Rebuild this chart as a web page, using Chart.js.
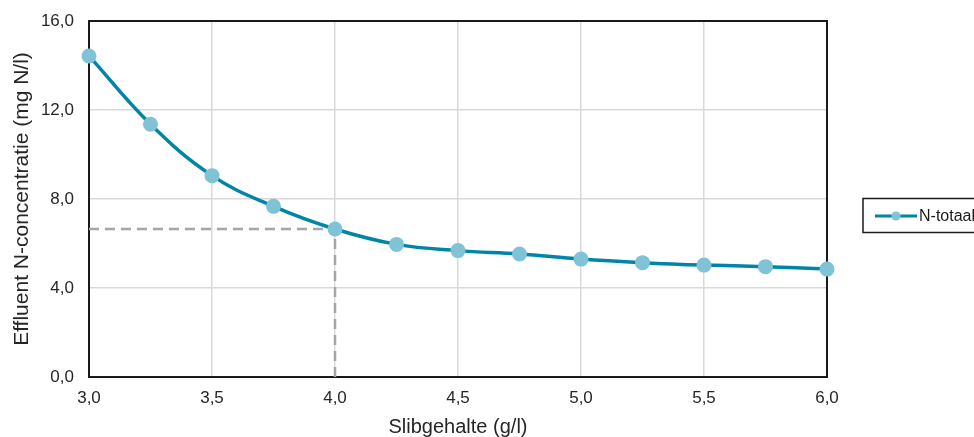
<!DOCTYPE html>
<html>
<head>
<meta charset="utf-8">
<script src="https://cdn.jsdelivr.net/npm/chart.js@4"></script>
<style>
html,body{margin:0;padding:0;background:#fff;}
#wrap{width:974px;height:437px;position:relative;}
</style>
</head>
<body>
<div id="wrap"><canvas id="c" width="974" height="437"></canvas></div>
<script>
const slibgehalte = [3.0, 3.25, 3.5, 3.75, 4.0, 4.25, 4.5, 4.75, 5.0, 5.25, 5.5, 5.75, 6.0];
const nTotaal = [14.43, 11.36, 9.05, 7.67, 6.65, 5.96, 5.68, 5.53, 5.30, 5.14, 5.03, 4.96, 4.85];
const refX = [3.0, 4.0, 4.0];
const refY = [6.65, 6.65, 0.0];
const seriesLabel = 'N-totaal';
const xTitle = 'Slibgehalte (g/l)';
const yTitle = 'Effluent N-concentratie (mg N/l)';

const FONT = '"Liberation Sans", Arial, sans-serif';
const LINE = '#0085A7';
const MARK = '#80C3D6';
const fmt = v => Number(v).toFixed(1).replace('.', ',');

const boxPlugin = {
  id: 'box',
  beforeDatasetsDraw(chart) {
    const {ctx, chartArea: a} = chart;
    ctx.save();
    ctx.strokeStyle = '#1a1a1a';
    ctx.lineWidth = 2;
    ctx.strokeRect(a.left, a.top, a.right - a.left, a.bottom - a.top);
    ctx.restore();
  },
  afterDraw(chart) {
    const {ctx} = chart;
    const ds = chart.data.datasets[0];
    ctx.save();
    ctx.strokeStyle = '#1a1a1a';
    ctx.lineWidth = 1.5;
    ctx.strokeRect(863, 198.5, 130, 34);
    const cy = 216;
    ctx.strokeStyle = ds.borderColor;
    ctx.lineWidth = 3;
    ctx.beginPath(); ctx.moveTo(875, cy); ctx.lineTo(917, cy); ctx.stroke();
    ctx.fillStyle = ds.pointBackgroundColor;
    ctx.beginPath(); ctx.arc(896, cy, 4.5, 0, Math.PI * 2); ctx.fill();
    ctx.fillStyle = '#1a1a1a';
    ctx.font = '16px ' + FONT;
    ctx.textBaseline = 'middle';
    ctx.textAlign = 'left';
    ctx.fillText(ds.label, 919, cy + 1);
    ctx.restore();
  }
};

new Chart(document.getElementById('c'), {
  type: 'line',
  data: {
    datasets: [
      {
        label: seriesLabel,
        data: slibgehalte.map((x, i) => ({x, y: nTotaal[i]})),
        borderColor: LINE,
        borderWidth: 3.5,
        pointBackgroundColor: MARK,
        pointBorderColor: MARK,
        pointBorderWidth: 0,
        pointRadius: 7.5,
        tension: 0.4,
        fill: false,
        clip: false,
        order: 0
      },
      {
        label: 'ref',
        data: refX.map((x, i) => ({x, y: refY[i]})),
        borderColor: '#a6a6a6',
        borderWidth: 2.5,
        borderDash: [10, 6],
        pointRadius: 0,
        tension: 0,
        fill: false,
        order: 1
      }
    ]
  },
  options: {
    responsive: false,
    animation: false,
    devicePixelRatio: 1,
    layout: {padding: {left: 0, right: 147, top: 21, bottom: 0}},
    plugins: {legend: {display: false}, tooltip: {enabled: false}},
    scales: {
      x: {
        type: 'linear', min: 3, max: 6,
        afterFit: s => { s.height = 60; s.paddingLeft = 0; s.paddingRight = 0; },
        ticks: {stepSize: 0.5, callback: fmt, padding: 11, color: '#262626', font: {family: FONT, size: 17}, maxRotation: 0},
        grid: {color: '#d9d9d9', lineWidth: 1.5, drawTicks: false},
        border: {display: false},
        title: {display: true, text: xTitle, color: '#262626', font: {family: FONT, size: 20, lineHeight: 1}, padding: {top: 0, bottom: 0}}
      },
      y: {
        min: 0, max: 16,
        afterFit: s => { s.width = 89; s.paddingTop = 0; s.paddingBottom = 0; },
        ticks: {stepSize: 4, callback: fmt, padding: 15, color: '#262626', font: {family: FONT, size: 17}},
        grid: {color: '#d9d9d9', lineWidth: 1.5, drawTicks: false},
        border: {display: false},
        title: {display: true, text: yTitle, color: '#262626', font: {family: FONT, size: 21, lineHeight: 1.2}, padding: {top: 10, bottom: 0}}
      }
    }
  },
  plugins: [boxPlugin]
});
</script>
</body>
</html>
